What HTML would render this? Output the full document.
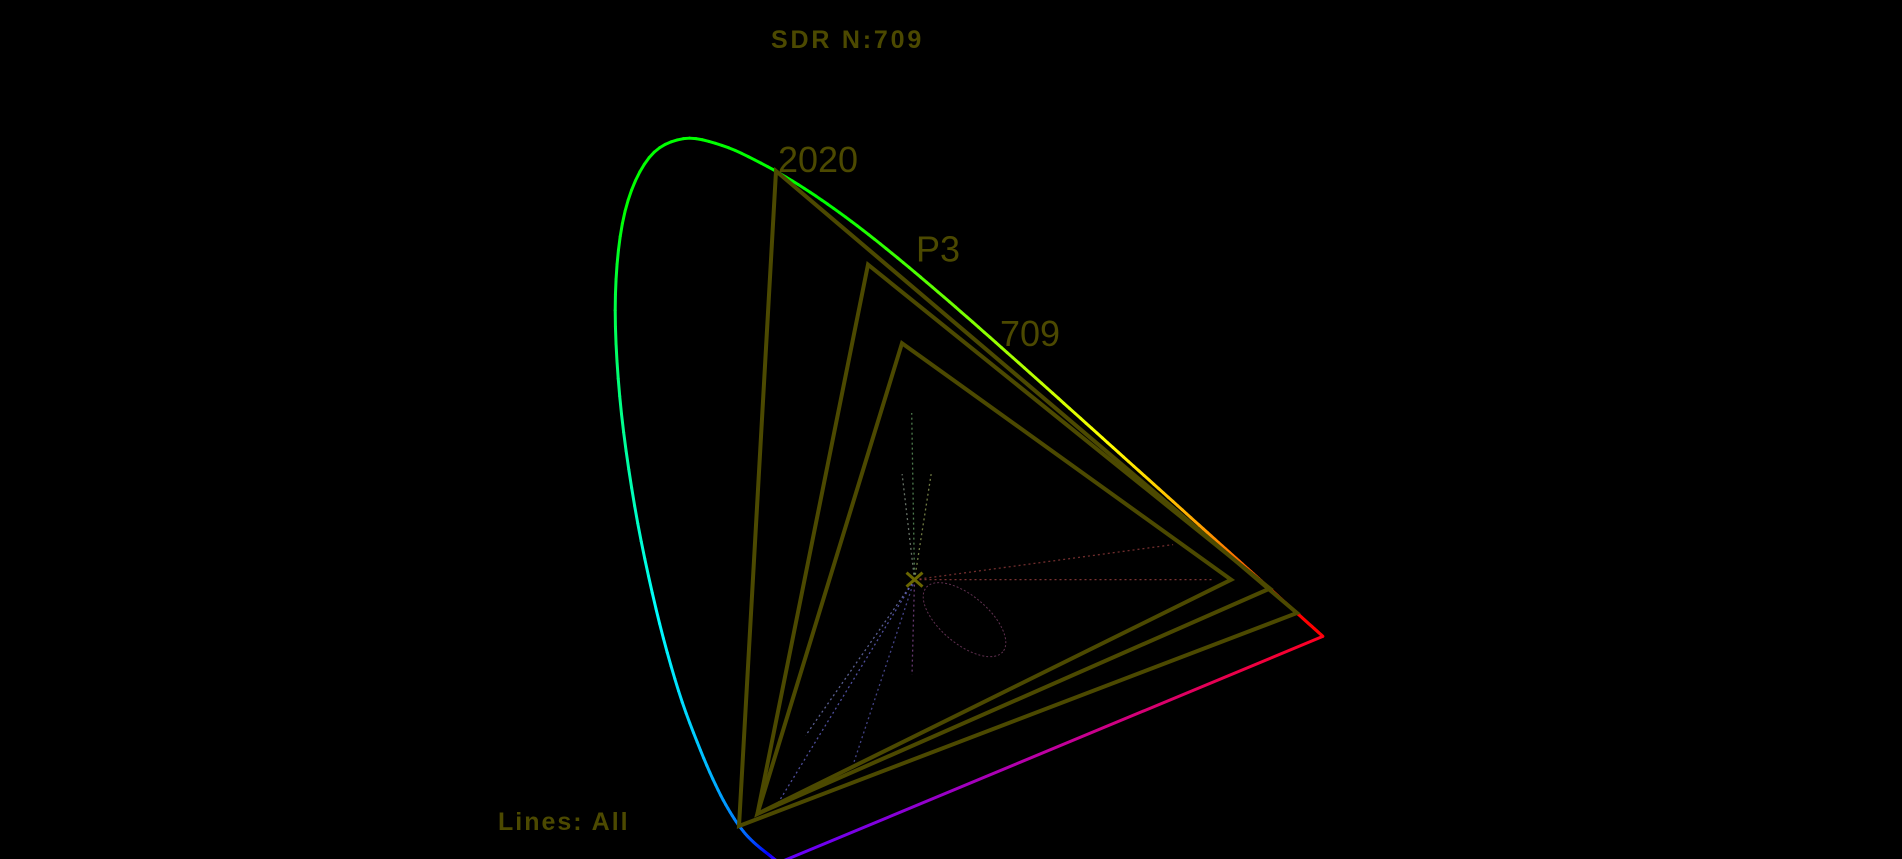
<!DOCTYPE html>
<html><head><meta charset="utf-8"><title>CIE chromaticity scope</title>
<style>
html,body{margin:0;padding:0;background:#000;width:1902px;height:859px;overflow:hidden}
svg{display:block}
text{font-family:"Liberation Sans",sans-serif;fill:#4c4900}
</style></head>
<body>
<svg id="chart" width="1902" height="859" viewBox="0 0 1902 859" xmlns="http://www.w3.org/2000/svg">
<rect width="1902" height="859" fill="#000"/>
<g id="locus"></g>
<g id="scatter"></g>
<g id="gamuts"></g>
<text x="771" y="48" font-size="25" font-weight="bold" letter-spacing="2.8">SDR N:709</text>
<text x="498" y="830" font-size="25" font-weight="bold" letter-spacing="2">Lines: All</text>
</svg>
<script>
// spectral locus (CIE 1931 2deg), wavelengths and chromaticities
const wavelengths=[380,390,400,410,420,425,430,435,440,445,450,455,460,465,470,475,480,485,490,495,500,505,510,515,520,525,530,535,540,545,550,555,560,565,570,575,580,585,590,595,600,605,610,615,620,625,630,635,640,645,650,660,680];
const locusX=[0.1741,0.1738,0.1733,0.1726,0.1714,0.1703,0.1689,0.1669,0.1644,0.1611,0.1566,0.1510,0.1440,0.1355,0.1241,0.1096,0.0913,0.0687,0.0454,0.0235,0.0082,0.0039,0.0139,0.0389,0.0743,0.1142,0.1547,0.1929,0.2296,0.2658,0.3016,0.3373,0.3731,0.4087,0.4441,0.4788,0.5125,0.5448,0.5752,0.6029,0.6270,0.6482,0.6658,0.6801,0.6915,0.7006,0.7079,0.7140,0.7190,0.7230,0.7260,0.7300,0.7347];
const locusY=[0.0050,0.0049,0.0048,0.0048,0.0051,0.0058,0.0069,0.0086,0.0109,0.0138,0.0177,0.0227,0.0297,0.0399,0.0578,0.0868,0.1327,0.2007,0.2950,0.4127,0.5384,0.6548,0.7502,0.8120,0.8338,0.8262,0.8059,0.7816,0.7543,0.7243,0.6923,0.6589,0.6245,0.5896,0.5547,0.5202,0.4866,0.4544,0.4242,0.3965,0.3725,0.3514,0.3340,0.3197,0.3083,0.2993,0.2920,0.2859,0.2809,0.2770,0.2740,0.2700,0.2653];
// gamut primaries [R,G,B]
const gamutNames=["2020","P3","709"];
const gamutX=[[0.708,0.170,0.131],[0.680,0.265,0.150],[0.640,0.300,0.150]];
const gamutY=[[0.292,0.797,0.046],[0.320,0.690,0.060],[0.330,0.600,0.060]];
const whiteX=0.3127, whiteY=0.3290;
// scatter rays: endpoint chromaticities
const rayX=[0.58,0.62,0.31,0.30,0.33,0.20,0.25,0.31,0.17];
const rayY=[0.37,0.33,0.52,0.45,0.45,0.15,0.12,0.22,0.07];
const rayColor=["#a04040","#b04848","#70b070","#90a090","#a0b060","#8088d0","#6060c0","#9050a0","#7070e0"];

function px(x,y){return 612.3+967.5*x-0.98*y;}
function py(x,y){return 865.8+2.7*x-872.3*y;}
const NS="http://www.w3.org/2000/svg";
function wlColor(w){
  let h;
  if(w<440)h=270-(w-380)/60*20;
  else if(w<490)h=250-(w-440)/50*70;
  else if(w<510)h=180-(w-490)/20*60;
  else if(w<540)h=120;
  else if(w<580)h=120-(w-540)/40*60;
  else if(w<620)h=60-(w-580)/40*55;
  else h=0;
  return "hsl("+h+",100%,50%)";
}
const locus=document.getElementById('locus');
const N=locusX.length;
function P(i){i=Math.max(0,Math.min(N-1,i));return [px(locusX[i],locusY[i]),py(locusX[i],locusY[i])];}
for(let i=0;i<N-1;i++){
  const p0=P(i-1),p1=P(i),p2=P(i+1),p3=P(i+2);
  const steps=6;
  for(let s=0;s<steps;s++){
    const pts=[s/steps,(s+1)/steps].map(t=>{
      const t2=t*t,t3=t2*t;
      return [0,1].map(k=>0.5*((2*p1[k])+(-p0[k]+p2[k])*t+(2*p0[k]-5*p1[k]+4*p2[k]-p3[k])*t2+(-p0[k]+3*p1[k]-3*p2[k]+p3[k])*t3));
    });
    const w=wavelengths[i]+(wavelengths[i+1]-wavelengths[i])*(s+0.5)/steps;
    const l=document.createElementNS(NS,'line');
    
    
    l.setAttribute('x1',pts[0][0]);l.setAttribute('y1',pts[0][1]);
    l.setAttribute('x2',pts[1][0]);l.setAttribute('y2',pts[1][1]);
    l.setAttribute('stroke',wlColor(w));l.setAttribute('stroke-width','3');l.setAttribute('stroke-linecap','round');
    locus.appendChild(l);
  }
}
const n=N-1;
const defs=document.createElementNS(NS,'defs');
defs.innerHTML='<linearGradient id="pg" gradientUnits="userSpaceOnUse" x1="'+px(locusX[n],locusY[n])+'" y1="'+py(locusX[n],locusY[n])+'" x2="'+px(locusX[0],locusY[0])+'" y2="'+py(locusX[0],locusY[0])+'"><stop offset="0" stop-color="#ff0020"/><stop offset="0.5" stop-color="#c000a0"/><stop offset="1" stop-color="#6000ff"/></linearGradient>';
document.getElementById('chart').insertBefore(defs,locus);
const pl=document.createElementNS(NS,'line');


pl.setAttribute('x1',px(locusX[n],locusY[n]));pl.setAttribute('y1',py(locusX[n],locusY[n]));
pl.setAttribute('x2',px(locusX[0],locusY[0]));pl.setAttribute('y2',py(locusX[0],locusY[0]));
pl.setAttribute('stroke','url(#pg)');pl.setAttribute('stroke-width','3');
locus.appendChild(pl);

const sc=document.getElementById('scatter');
const wx=px(whiteX,whiteY), wy=py(whiteX,whiteY);
for(let i=0;i<rayX.length;i++){
  const l=document.createElementNS(NS,'line');
  
  
  l.setAttribute('x1',wx);l.setAttribute('y1',wy);
  l.setAttribute('x2',px(rayX[i],rayY[i]));l.setAttribute('y2',py(rayX[i],rayY[i]));
  l.setAttribute('stroke',rayColor[i]);l.setAttribute('stroke-width','1.3');l.setAttribute('stroke-dasharray','2 3');l.setAttribute('opacity','0.7');
  sc.appendChild(l);
}
const el=document.createElementNS(NS,'ellipse');


el.setAttribute('cx',wx+50);el.setAttribute('cy',wy+40);el.setAttribute('rx','50');el.setAttribute('ry','24');
el.setAttribute('transform','rotate(40 '+(wx+50)+' '+(wy+40)+')');
el.setAttribute('fill','none');el.setAttribute('stroke','#603050');el.setAttribute('stroke-width','1');el.setAttribute('stroke-dasharray','2 2');
sc.appendChild(el);

const g=document.getElementById('gamuts');
const labelOffsets=[[2,1],[48,-3],[98,3]];
for(let k=0;k<gamutNames.length;k++){
  const pts=[0,1,2].map(j=>px(gamutX[k][j],gamutY[k][j]).toFixed(1)+','+py(gamutX[k][j],gamutY[k][j]).toFixed(1)).join(' ');
  const p=document.createElementNS(NS,'polygon');
  
  
  p.setAttribute('points',pts);p.setAttribute('fill','none');p.setAttribute('stroke','#4c4900');p.setAttribute('stroke-width','4');
  g.appendChild(p);
  const t=document.createElementNS(NS,'text');
  
  
  t.setAttribute('x',px(gamutX[k][1],gamutY[k][1])+labelOffsets[k][0]);
  t.setAttribute('y',py(gamutX[k][1],gamutY[k][1])+labelOffsets[k][1]);
  t.setAttribute('font-size','36');
  t.textContent=gamutNames[k];
  g.appendChild(t);
}
const cr=document.createElementNS(NS,'path');


cr.setAttribute('d','M'+(wx-8)+' '+(wy-7)+'L'+(wx+8)+' '+(wy+7)+'M'+(wx+8)+' '+(wy-7)+'L'+(wx-8)+' '+(wy+7));
cr.setAttribute('stroke','#6a6600');cr.setAttribute('stroke-width','3');
g.appendChild(cr);
</script>
</body></html>
